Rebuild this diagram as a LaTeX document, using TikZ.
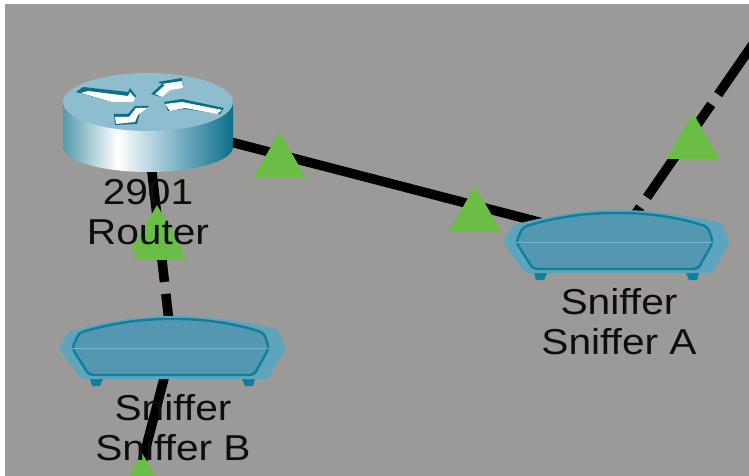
\documentclass[tikz,border=0pt]{standalone}
\usepackage{fontspec}
\setmainfont{Liberation Sans}
\usetikzlibrary{calc}
\usetikzlibrary{shapes.geometric}
\definecolor{simgray}{HTML}{9C9A98}
\definecolor{simgreen}{HTML}{6ABD45}
\definecolor{routertop}{HTML}{8FBDD0}
\definecolor{routerdark}{HTML}{0B6F88}
\definecolor{snifouter}{HTML}{5FA4BD}
\definecolor{snifbody}{HTML}{5497B1}
\definecolor{snifline}{HTML}{0E7F9C}
\definecolor{sniflight}{HTML}{74B5C9}
\pgfdeclarehorizontalshading{routerside}{100bp}{
  color(0bp)=(routerdark!70!white);
  color(25bp)=(routerdark!70!white);
  color(41bp)=(white);
  color(58bp)=(routertop!90!routerdark);
  color(75bp)=(routerdark);
  color(100bp)=(routerdark)}
\tikzset{
  wire/.style={black,line width=9.5pt},
  dashwire/.style={wire,dash pattern=on 113pt off 12pt},
  linkup/.style={regular polygon,regular polygon sides=3,fill=simgreen,minimum size=61.2pt,inner sep=0pt,outer sep=0pt},
  devlabel/.style={align=center,font=\fontsize{36}{40}\selectfont,xscale=1.13,text=black!95,inner sep=0pt},
  sniffer/.pic={
    \fill[snifline] (-82,31)--(-69,31)--(-72,38)--(-80,38)--cycle;
    \fill[snifline] (70,31)--(83,31)--(81,38)--(73,38)--cycle;
    \fill[snifouter,rounded corners=3pt] (-113,0)--(-103,-17) .. controls (-60,-28) and (-30,-32) .. (0,-32) .. controls (35,-32) and (70,-27) .. (106,-19)--(114,0)--(96,31)--(-91,31)--cycle;
    \filldraw[fill=snifbody,draw=snifline,line width=2.4pt,rounded corners=4pt] (-100,0)--(-93,-15) .. controls (-60,-25) and (-30,-29) .. (0,-29) .. controls (35,-29) and (65,-24) .. (92,-15)--(97,0)--(82,27)--(-83,27)--cycle;
    \draw[sniflight,line width=1pt] (-100,0)--(97,0);
  }
}
\begin{document}
\begin{tikzpicture}[x=1pt,y=-1pt]
\useasboundingbox (0,0) rectangle (749,476);
\clip (0,0) rectangle (749,476);
\fill[simgray] (5,4) rectangle (749,476);
\coordinate(router) at (146,120);
\coordinate(snifA) at (616,242);
\coordinate(snifB) at (172,348);
\coordinate(upR) at (760,34);
\coordinate(downB) at (127,520);
% links
\draw[wire] (router)--(snifA);
\draw[dashwire,dash phase=75pt] (router)--(snifB);
\draw[dashwire,dash phase=70.6pt] (snifA)--(upR);
\draw[wire] (snifB)--(downB);
% router
\shade[shading=routerside] (63,102)--(63,147) arc[start angle=180,end angle=360,x radius=85pt,y radius=25pt]--(233,102)--cycle;
\fill[routertop] (148,102) ellipse[x radius=85pt,y radius=29pt];
\fill[routerdark] (76,92)--(83,87)--(128,92)--(130,88)--(136,96)--(133,101)--(112,102)--cycle;
\fill[white] (81,93)--(88,91)--(128,96)--(130,92)--(135,98)--(133,102)--(112,102)--cycle;
\fill[routerdark] (151,94)--(162,84)--(158,82)--(182,78)--(183,88)--(170,89)--(161,97)--cycle;
\fill[white] (155,94)--(165,85)--(162,84)--(182,81)--(183,88)--(170,90)--(162,97)--cycle;
\fill[routerdark] (164,102)--(182,99)--(224,108)--(220,114)--(185,109)--(168,111)--cycle;
\fill[white] (165,104)--(182,102)--(222,110)--(217,114)--(185,108)--(170,111)--cycle;
\fill[routerdark] (114,114)--(128,114)--(135,106)--(149,106)--(140,113)--(137,124)--(115,125)--cycle;
\fill[white] (115,117)--(129,117)--(136,108)--(147,108)--(138,115)--(135,122)--(116,124)--cycle;
% sniffers
\pic at (snifA) {sniffer};
\pic at (snifB) {sniffer};
% link lights
\node[linkup] (lightRa) at (279.5,162.6) {};
\node[linkup] (lightAr) at (475,216.6) {};
\node[linkup] (lightAu) at (693,143.6) {};
\node[linkup] (lightRb) at (157,235.6) {};
\node[linkup] (lightBr) at (160,244.6) {};
\node[linkup] (lightBd) at (142,483.6) {};
% labels
\node[devlabel] (labRouter) at (148,212) {2901\\Router};
\node[devlabel] (labA) at (619,322) {Sniffer\\Sniffer A};
\node[devlabel] (labB) at (173,428) {Sniffer\\Sniffer B};
\end{tikzpicture}
\end{document}
